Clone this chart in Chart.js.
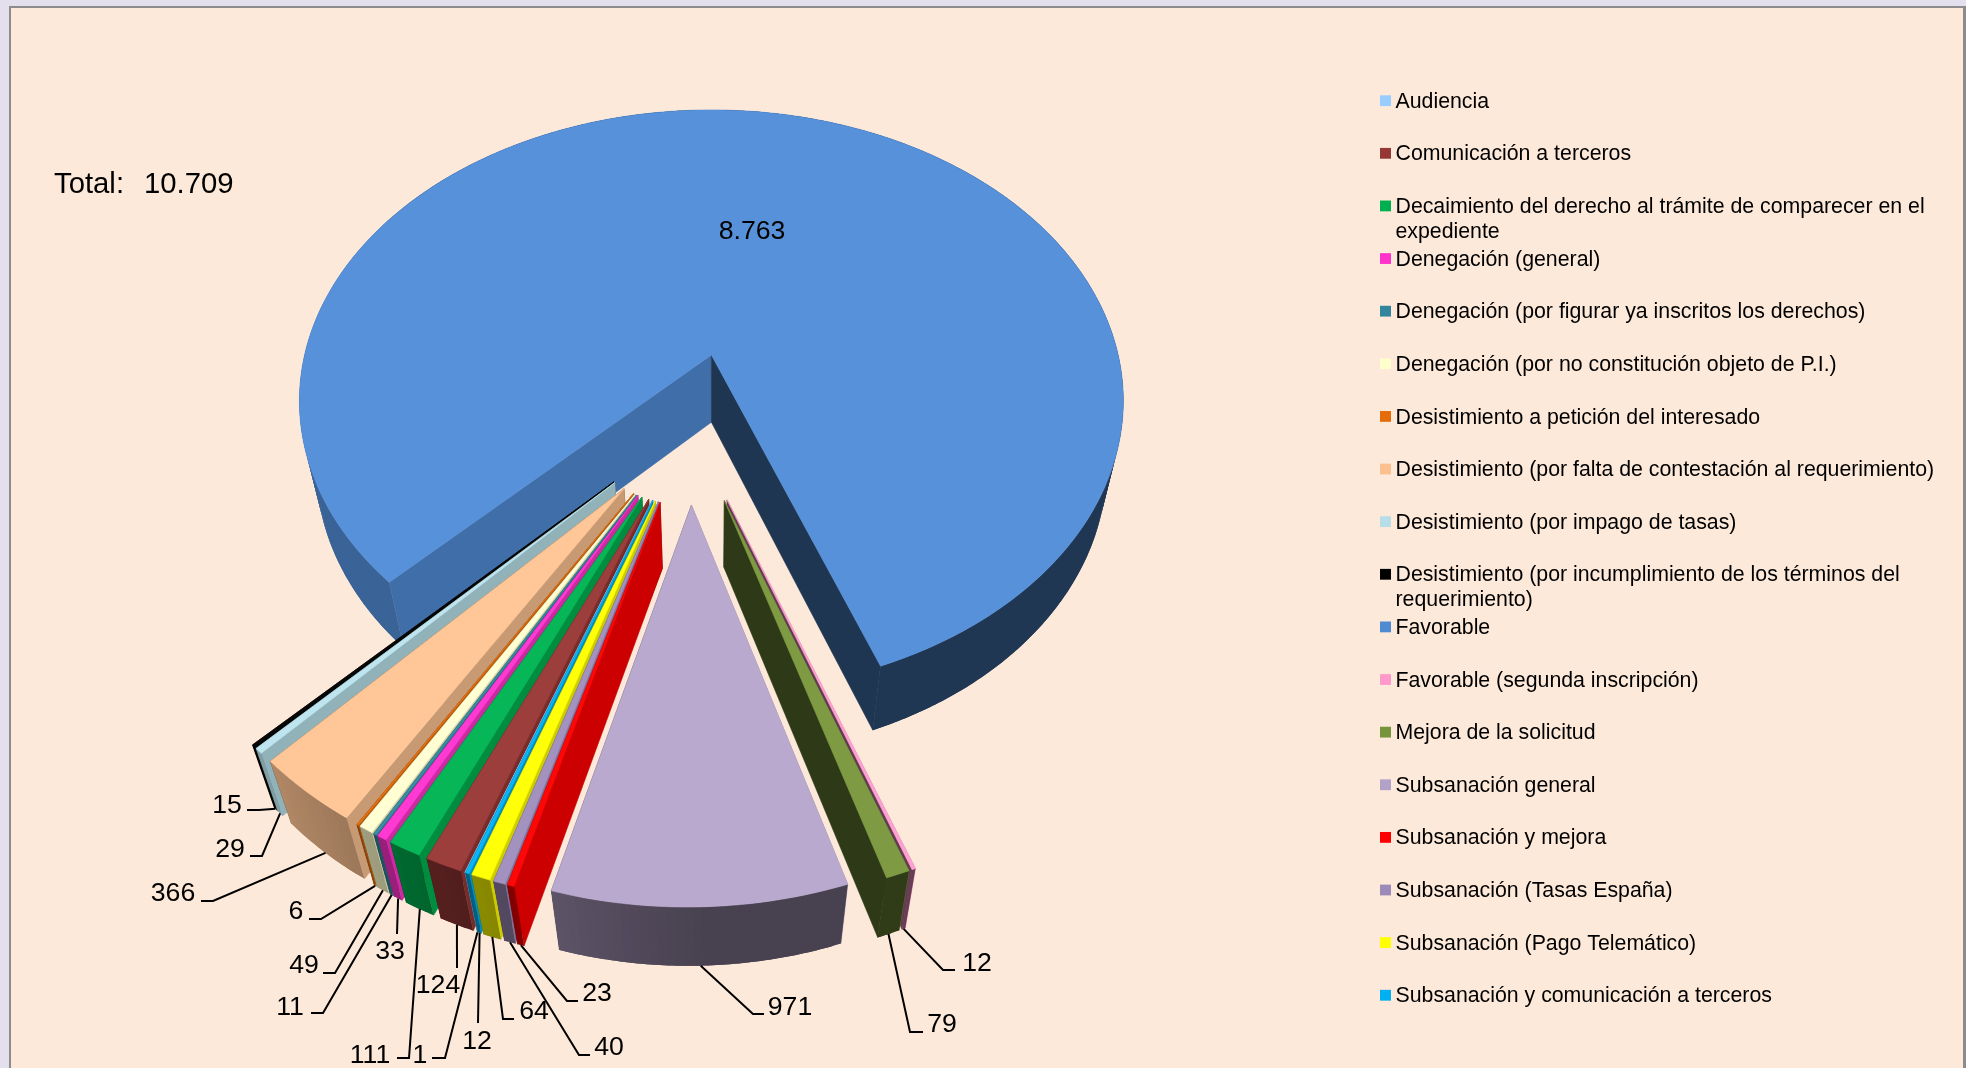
<!DOCTYPE html>
<html>
<head>
<meta charset="utf-8">
<title>Total 10.709</title>
<script src="https://cdn.jsdelivr.net/npm/chart.js@4"></script>
<style>
  html, body { margin: 0; background: #e3dfec; overflow: hidden; }
  canvas { display: block; }
</style>
</head>
<body>
<canvas id="pie-3d" width="1966" height="1068"></canvas>
<script>
// legend order, clockwise on the pie
const categories = [
  'Audiencia',
  'Comunicación a terceros',
  'Decaimiento del derecho al trámite de comparecer en el expediente',
  'Denegación (general)',
  'Denegación (por figurar ya inscritos los derechos)',
  'Denegación (por no constitución objeto de P.I.)',
  'Desistimiento a petición del interesado',
  'Desistimiento (por falta de contestación al requerimiento)',
  'Desistimiento (por impago de tasas)',
  'Desistimiento (por incumplimiento de los términos del requerimiento)',
  'Favorable',
  'Favorable (segunda inscripción)',
  'Mejora de la solicitud',
  'Subsanación general',
  'Subsanación y mejora',
  'Subsanación (Tasas España)',
  'Subsanación (Pago Telemático)',
  'Subsanación y comunicación a terceros'
];
const values = [1, 124, 111, 33, 11, 49, 6, 366, 29, 15, 8763, 12, 79, 971, 23, 40, 64, 12];
const colors = [
  '#99ccff', '#953735', '#00b050', '#ff33cc', '#31859c', '#ffffcc',
  '#e46c0a', '#fac090', '#b7dee8', '#000000', '#508ad2', '#ff99cc',
  '#77933c', '#b3a2c7', '#ff0000', '#9c8ab8', '#ffff00', '#00b0f0'
];

// label placement: text centre, then the little tick (text end, elbow) before the leader
const labelLayout = [
  [420, 1056, 432, 1058, 445, 1058],
  [438, 986, 457, 968, 457, 968],
  [370, 1056, 397, 1058, 409, 1058],
  [390, 952, 397, 934, 397, 934],
  [290, 1008, 311, 1013, 323, 1013],
  [304, 966, 323, 973, 335, 973],
  [296, 912, 309, 919, 321, 919],
  [173, 894, 201, 901, 213, 901],
  [230, 850, 250, 856, 262, 856],
  [227, 806, 247, 810, 259, 810],
  null,
  [977, 964, 955, 970, 943, 970],
  [942, 1025, 923, 1032, 910, 1032],
  [790, 1008, 764, 1014, 753, 1014],
  [597, 994, 578, 1001, 567, 1001],
  [609, 1048, 590, 1055, 579, 1055],
  [534, 1012, 514, 1019, 503, 1019],
  [477, 1042, 478, 1023, 478, 1023]
];

// fitted from the picture: perspective of the pie plane, radius 1
const view = { cx: 712, cy: 355, sx: 406.8, sy: 283.7, tilt: 0.158, zTilt: 0.041, zDrop: 70 };
const pieCentre = [-0.0526, 0.2413];
const explode = 0.247;

function project(x, y, z) {
  const w = 1 - view.tilt * y + view.zTilt * z;
  return [view.cx + view.sx * x / w, view.cy + (view.sy * y + view.zDrop * z) / w];
}

function shadeColor(hex, k, add) {
  const n = parseInt(hex.slice(1), 16);
  const ch = [n >> 16, (n >> 8) & 255, n & 255].map(c => Math.min(255, Math.round(c * k + (add || 0))));
  return 'rgb(' + ch.join(',') + ')';
}

function fillPoly(ctx, pts, color, noStroke) {
  ctx.beginPath();
  pts.forEach((p, i) => i ? ctx.lineTo(p[0], p[1]) : ctx.moveTo(p[0], p[1]));
  ctx.closePath();
  ctx.fillStyle = color;
  ctx.fill();
  if (!noStroke) {
    ctx.strokeStyle = color;
    ctx.lineWidth = 0.6;
    ctx.stroke();
  }
}

// clockwise degrees from 12 o'clock
function clockDeg(a) {
  return ((a * 180 / Math.PI + 90) % 360 + 360) % 360;
}

// outer wall gets lighter going round to the left
function outerShade(a) {
  const deg = clockDeg(a);
  if (deg > 300) return 0.4;
  return 0.4 + 0.32 * Math.max(0, Math.min(1, (deg - 178) / 47));
}

function sliceApex(arc) {
  const mid = (arc.startAngle + arc.endAngle) / 2;
  return [pieCentre[0] + explode * Math.cos(mid), pieCentre[1] + explode * Math.sin(mid)];
}

function drawSlice(ctx, arc, color) {
  const [ax, ay] = sliceApex(arc);
  const rim = (a, z) => project(ax + Math.cos(a), ay + Math.sin(a), z);
  const step = Math.PI / 180;
  const angles = [];
  for (let a = arc.startAngle; a < arc.endAngle; a += step) angles.push(a);
  angles.push(arc.endAngle);

  // radial walls, the one facing the camera goes last
  const wall = (a, k) => fillPoly(ctx, [project(ax, ay, 0), rim(a, 0), rim(a, 1), project(ax, ay, 1)], shadeColor(color, k));
  const s = arc.startAngle, e = arc.endAngle;
  if (clockDeg((s + e) / 2) < 180) {
    wall(s, 0.8);
    wall(e, 0.39);
  } else {
    wall(e, 0.39);
    wall(s, 0.8);
  }

  // outer wall, each piece runs under the next so no seams
  for (let i = 0; i < angles.length - 1; i++) {
    const a = angles[i], b = angles[Math.min(i + 2, angles.length - 1)];
    const pts = [rim(a, 0)];
    for (let t = 1; t <= 4; t++) pts.push(rim(a + (b - a) * t / 4, 0));
    for (let t = 4; t >= 0; t--) pts.push(rim(a + (b - a) * t / 4, 1));
    fillPoly(ctx, pts, shadeColor(color, outerShade(a + step / 2)), true);
  }

  // top face
  fillPoly(ctx, [project(ax, ay, 0)].concat(angles.map(a => rim(a, 0))), shadeColor(color, 1, 7));
}

function formatValue(v) {
  return String(v).replace(/\B(?=(\d{3})+$)/g, '.');
}

const pie3d = {
  id: 'pie3d',
  beforeDraw(chart) {
    const ctx = chart.ctx;
    ctx.save();
    ctx.fillStyle = '#e3dfec';
    ctx.fillRect(0, 0, 1966, 1068);
    ctx.fillStyle = '#8c8c8c';
    ctx.fillRect(9, 6, 1957, 1062);
    ctx.fillStyle = '#fde9d9';
    ctx.fillRect(11, 8, 1952, 1060);
    ctx.restore();
  },
  // the library works out the angles, the slices get painted here in perspective
  beforeDatasetsDraw(chart) {
    const ctx = chart.ctx;
    const arcs = chart.getDatasetMeta(0).data;
    const order = arcs.map((arc, i) => i).sort((i, j) => {
      const off = arc => Math.abs(clockDeg((arc.startAngle + arc.endAngle) / 2) - 180);
      return off(arcs[j]) - off(arcs[i]);
    });
    ctx.save();
    ctx.lineJoin = 'round';
    order.forEach(i => drawSlice(ctx, arcs[i], colors[i]));
    ctx.restore();
    return false;
  },
  afterDraw(chart) {
    const ctx = chart.ctx;
    const arcs = chart.getDatasetMeta(0).data;
    ctx.save();
    ctx.font = '26.67px "Liberation Sans"';
    ctx.textAlign = 'center';
    ctx.textBaseline = 'middle';

    arcs.forEach((arc, i) => {
      const layout = labelLayout[i];
      if (!layout) return;
      const mid = (arc.startAngle + arc.endAngle) / 2;
      const [ax, ay] = sliceApex(arc);
      const end = project(ax + Math.cos(mid), ay + Math.sin(mid), 1);
      ctx.beginPath();
      ctx.moveTo(layout[2], layout[3]);
      ctx.lineTo(layout[4], layout[5]);
      ctx.lineTo(end[0], end[1]);
      ctx.strokeStyle = '#000';
      ctx.lineWidth = 2;
      ctx.stroke();
      ctx.fillStyle = '#000';
      ctx.fillText(formatValue(values[i]), layout[0], layout[1]);
    });

    // the big slice has its value on the face
    ctx.fillStyle = '#000';
    ctx.fillText(formatValue(values[10]), 752, 232);

    ctx.font = '29.3px "Liberation Sans"';
    ctx.textAlign = 'left';
    ctx.wordSpacing = '1.8px';
    const total = values.reduce((a, b) => a + b, 0);
    ctx.fillText('Total:  ' + formatValue(total), 54, 184.5);
    ctx.wordSpacing = '0px';

    // legend: fixed row pitch, second line just hangs below
    ctx.font = '21.3px "Liberation Sans"';
    categories.forEach((name, i) => {
      const y = 100.7 + i * 52.62;
      ctx.fillStyle = colors[i];
      ctx.fillRect(1380, y - 5.4, 11, 10.8);
      ctx.fillStyle = '#000';
      let line = '', row = 0;
      name.split(' ').forEach(word => {
        const next = line ? line + ' ' + word : word;
        if (ctx.measureText(next).width > 560) {
          ctx.fillText(line, 1395.5, y + 1.2 + row * 25);
          row++;
          line = word;
        } else {
          line = next;
        }
      });
      ctx.fillText(line, 1395.5, y + 1.2 + row * 25);
    });
    ctx.restore();
  }
};

new Chart(document.getElementById('pie-3d'), {
  type: 'pie',
  data: {
    labels: categories,
    datasets: [{ data: values, backgroundColor: colors }]
  },
  options: {
    responsive: false,
    animation: false,
    rotation: 199.6,
    plugins: { legend: { display: false }, tooltip: { enabled: false } }
  },
  plugins: [pie3d]
});
</script>
</body>
</html>
